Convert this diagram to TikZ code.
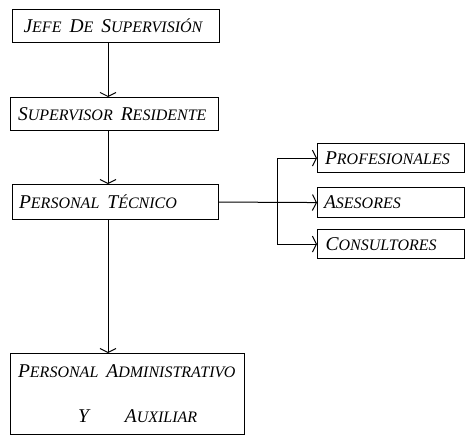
\documentclass[tikz,border=0pt]{standalone}
\usepackage{fontspec}
\setmainfont{Liberation Serif}
\usetikzlibrary{arrows.meta}
\newcommand\fsc[2]{{\fontsize{19.5}{19.5}\selectfont #1}{\fontsize{16}{16}\selectfont\MakeUppercase{#2}}}
\tikzset{
  box/.style={draw, line width=1.1pt, rectangle, anchor=north west, align=left, inner xsep=0pt, inner ysep=0pt, font=\itshape\fontsize{24}{26}\selectfont},
  arr/.style={line width=1pt, -{Straight Barb[length=4pt,width=16pt,line width=1pt]}},
  ln/.style={line width=1pt}
}
\begin{document}
\begin{tikzpicture}[x=1pt,y=-1pt]
\useasboundingbox (0,0) rectangle (468,436);
\node[box, minimum width=207pt, minimum height=33pt, text width=185pt] (jefe) at (12,9) {\fsc{J}{efe} \fsc{D}{e} \fsc{S}{upervisión}};
\node[box, minimum width=208pt, minimum height=33pt, text width=193pt] (sup) at (10,97) {\fsc{S}{upervisor} \fsc{R}{esidente}};
\node[box, minimum width=206pt, minimum height=35pt, text width=193pt] (tec) at (12,184) {\fsc{P}{ersonal} \fsc{T}{écnico}};
\node[box, minimum width=147pt, minimum height=29pt, text width=132pt] (prof) at (317,143) {\fsc{P}{rofesionales}};
\node[box, minimum width=147pt, minimum height=30pt, text width=134pt] (ase) at (317,187) {\fsc{A}{sesores}};
\node[box, minimum width=147pt, minimum height=29pt, text width=131pt] (cons) at (317,229) {\fsc{C}{onsultores}};
\node[box, minimum width=234pt, minimum height=81pt, text width=219pt] (adm) at (10,353) {\fsc{P}{ersonal} \fsc{A}{dministrativo}\\[19pt]\hspace*{60pt}\fsc{Y}{}\hspace{36pt}\fsc{A}{uxiliar}};
\coordinate (v) at (108,0);
\coordinate (b) at (277,0);
\draw[arr] (jefe.south -| v) -- (sup.north -| v);
\draw[arr] (sup.south -| v) -- (tec.north -| v);
\draw[arr] (tec.south -| v) -- (adm.north -| v);
\draw[arr] (tec.east) -- (ase.west);
\draw[ln] (prof.west -| b) -- (cons.west -| b);
\draw[arr] (prof.west -| b) -- (prof.west);
\draw[arr] (cons.west -| b) -- (cons.west);
\end{tikzpicture}
\end{document}
